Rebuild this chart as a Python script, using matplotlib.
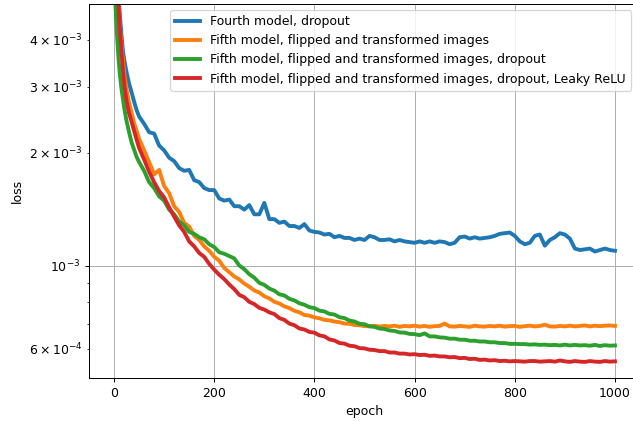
import numpy as np
import matplotlib
matplotlib.use("Agg")
import matplotlib.pyplot as plt

# epochs at which the losses were logged (denser at the start where it drops fast)
epochs = np.array([0, 3, 6, 9, 12, 15, 18, 21, 25, 30, 35, 40, 45, 50]
                  + list(range(60, 1001, 10)))

# training loss, in units of 1e-3
loss_fourth_dropout = [
    8.5, 7.2, 6.0, 5.2, 4.6, 4.1, 3.72, 3.5, 3.28, 3.06, 2.9, 2.74, 2.6, 2.5,
    2.39, 2.27, 2.25, 2.09, 2.03, 1.94, 1.90, 1.82, 1.79, 1.80,
    1.69, 1.67, 1.61, 1.59, 1.59, 1.51, 1.49, 1.50, 1.44, 1.44,
    1.41, 1.45, 1.37, 1.37, 1.47, 1.33, 1.33, 1.30, 1.31, 1.275,
    1.275, 1.26, 1.29, 1.24, 1.23, 1.225, 1.21, 1.215, 1.19, 1.20,
    1.185, 1.185, 1.17, 1.18, 1.17, 1.20, 1.19, 1.17, 1.17, 1.175,
    1.16, 1.17, 1.16, 1.155, 1.15, 1.16, 1.15, 1.16, 1.15, 1.16,
    1.155, 1.14, 1.15, 1.19, 1.195, 1.18, 1.19, 1.18, 1.185, 1.19,
    1.20, 1.215, 1.22, 1.225, 1.20, 1.16, 1.14, 1.15, 1.20, 1.21,
    1.13, 1.17, 1.19, 1.22, 1.21, 1.18, 1.11, 1.10, 1.105, 1.11,
    1.09, 1.10, 1.11, 1.10, 1.095,
]
loss_fifth_flipped = [
    7.5, 6.5, 5.5, 4.9, 4.3, 3.85, 3.5, 3.2, 2.95, 2.72, 2.56, 2.40, 2.29, 2.18,
    2.03, 1.89, 1.75, 1.80, 1.63, 1.56, 1.44, 1.39, 1.30, 1.27,
    1.20, 1.17, 1.125, 1.095, 1.055, 1.03, 0.985, 0.96, 0.935, 0.918,
    0.895, 0.878, 0.858, 0.847, 0.828, 0.817, 0.80, 0.792, 0.778, 0.77,
    0.757, 0.75, 0.738, 0.735, 0.727, 0.723, 0.716, 0.714, 0.709, 0.706,
    0.70, 0.699, 0.694, 0.693, 0.689, 0.689, 0.691, 0.687, 0.690, 0.688,
    0.691, 0.686, 0.690, 0.688, 0.691, 0.687, 0.690, 0.686, 0.689, 0.690,
    0.700, 0.688, 0.687, 0.690, 0.688, 0.686, 0.691, 0.688, 0.687, 0.690,
    0.688, 0.691, 0.687, 0.689, 0.690, 0.686, 0.689, 0.691, 0.688, 0.690,
    0.695, 0.688, 0.687, 0.690, 0.688, 0.691, 0.688, 0.690, 0.692, 0.688,
    0.691, 0.689, 0.691, 0.692, 0.690,
]
loss_fifth_flipped_dropout = [
    6.5, 4.9, 4.1, 3.55, 3.2, 2.95, 2.77, 2.6, 2.43, 2.27, 2.13, 2.04, 1.95, 1.89,
    1.79, 1.67, 1.61, 1.53, 1.49, 1.41, 1.37, 1.31, 1.28, 1.23,
    1.215, 1.19, 1.175, 1.14, 1.12, 1.085, 1.075, 1.06, 1.045, 1.0,
    0.978, 0.948, 0.928, 0.899, 0.888, 0.868, 0.857, 0.838, 0.832, 0.815,
    0.807, 0.793, 0.786, 0.774, 0.77, 0.758, 0.754, 0.743, 0.74, 0.728,
    0.724, 0.713, 0.709, 0.699, 0.697, 0.688, 0.686, 0.679, 0.677, 0.671,
    0.669, 0.663, 0.662, 0.657, 0.656, 0.652, 0.659, 0.647, 0.647, 0.643,
    0.642, 0.638, 0.638, 0.634, 0.634, 0.630, 0.630, 0.627, 0.627, 0.624,
    0.624, 0.621, 0.621, 0.618, 0.618, 0.617, 0.617, 0.615, 0.616, 0.614,
    0.615, 0.613, 0.614, 0.612, 0.615, 0.612, 0.614, 0.612, 0.613, 0.611,
    0.614, 0.610, 0.613, 0.611, 0.612,
]
loss_fifth_leaky = [
    8.0, 6.8, 5.7, 4.9, 4.2, 3.7, 3.3, 3.0, 2.75, 2.55, 2.42, 2.29, 2.17, 2.06,
    1.92, 1.78, 1.67, 1.58, 1.52, 1.43, 1.35, 1.28, 1.23, 1.16,
    1.125, 1.08, 1.055, 1.01, 0.975, 0.945, 0.92, 0.89, 0.865, 0.835,
    0.823, 0.80, 0.789, 0.771, 0.763, 0.75, 0.742, 0.724, 0.716, 0.70,
    0.693, 0.679, 0.675, 0.665, 0.662, 0.651, 0.647, 0.635, 0.631, 0.621,
    0.619, 0.611, 0.609, 0.602, 0.601, 0.596, 0.595, 0.591, 0.591, 0.586,
    0.586, 0.582, 0.582, 0.579, 0.580, 0.577, 0.578, 0.574, 0.575, 0.572,
    0.572, 0.569, 0.570, 0.566, 0.567, 0.563, 0.564, 0.560, 0.561, 0.558,
    0.559, 0.556, 0.557, 0.555, 0.556, 0.555, 0.554, 0.556, 0.556, 0.554,
    0.555, 0.556, 0.554, 0.558, 0.555, 0.553, 0.556, 0.554, 0.553, 0.556,
    0.554, 0.553, 0.556, 0.554, 0.555,
]

labels = [
    "Fourth model, dropout",
    "Fifth model, flipped and transformed images",
    "Fifth model, flipped and transformed images, dropout",
    "Fifth model, flipped and transformed images, dropout, Leaky ReLU",
]
series = [loss_fourth_dropout, loss_fifth_flipped,
          loss_fifth_flipped_dropout, loss_fifth_leaky]

dpi = 90
fig = plt.figure(figsize=(633 / dpi, 421 / dpi), dpi=dpi)
ax = fig.add_axes([89 / 633, 43 / 421, 551 / 633, 374 / 421])

for values, label in zip(series, labels):
    ax.plot(epochs, np.array(values) * 1e-3, lw=3.1, label=label)

ax.set_yscale("log")
ax.set_xlim(-50, 1050)
ax.set_ylim(5.01e-4, 4.99e-3)
ax.grid(True)
ax.set_xlabel("epoch")
ax.set_ylabel("loss")
ax.legend(loc="upper right", bbox_to_anchor=(631 / 633, 1 - 10 / 421),
          bbox_transform=fig.transFigure, borderaxespad=0)

fig.savefig("out.png", dpi=dpi)
